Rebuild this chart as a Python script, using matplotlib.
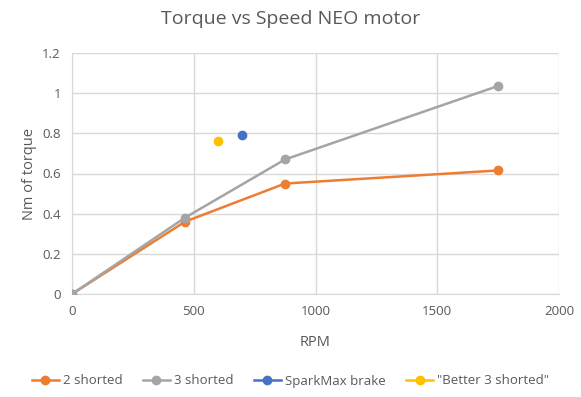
import matplotlib.pyplot as plt

# RPM vs torque (Nm) readings
rpm_2 = [0, 464, 875, 1748]
torque_2 = [0, 0.36, 0.55, 0.615]
rpm_3 = [0, 464, 875, 1748]
torque_3 = [0, 0.38, 0.67, 1.035]
rpm_spark = [700]
torque_spark = [0.79]
rpm_better = [600]
torque_better = [0.76]

plt.rcParams['font.family'] = ['Open Sans', 'DejaVu Sans']
txt = '#595959'
grid = '#D9D9D9'

fig = plt.figure(figsize=(5.81, 3.97), dpi=100)
ax = fig.add_axes([72 / 581, 1 - 294 / 397, (559 - 72) / 581, (294 - 53) / 397])

ax.plot(rpm_2, torque_2, color='#ED7D31', lw=1.8, marker='o', ms=6, label='2 shorted', zorder=3)
ax.plot(rpm_3, torque_3, color='#A5A5A5', lw=1.8, marker='o', ms=6, label='3 shorted', zorder=3)
ax.plot(rpm_spark, torque_spark, color='#4472C4', lw=1.8, marker='o', ms=6, label='SparkMax brake', zorder=3)
ax.plot(rpm_better, torque_better, color='#FFC000', lw=1.8, marker='o', ms=6, label='"Better 3 shorted"', zorder=3)

ax.set_xlim(0, 2000)
ax.set_ylim(0, 1.2)
ax.set_xticks([0, 500, 1000, 1500, 2000])
ax.set_yticks([0, 0.2, 0.4, 0.6, 0.8, 1, 1.2])
ax.set_yticklabels(['0', '0.2', '0.4', '0.6', '0.8', '1', '1.2'])
ax.grid(True, color=grid, lw=1)
ax.set_axisbelow(True)
for s in ['top', 'right']:
    ax.spines[s].set_visible(False)
for s in ['left', 'bottom']:
    ax.spines[s].set_color(grid)
ax.tick_params(length=0, colors=txt, labelsize=9.5, pad=8)

ax.set_xlabel('RPM', color=txt, fontsize=10.5, labelpad=12)
ax.set_ylabel('Nm of torque', color=txt, fontsize=10.5, labelpad=4)
fig.suptitle('Torque vs Speed NEO motor', color=txt, fontsize=14, y=0.975)

fig.legend(loc='center', bbox_to_anchor=(0.5, 1 - 381 / 397), ncol=4, frameon=False,
           fontsize=9.5, labelcolor=txt, handlelength=2.0, columnspacing=1.6, handletextpad=0.3)

fig.savefig('out.png', dpi=100)
